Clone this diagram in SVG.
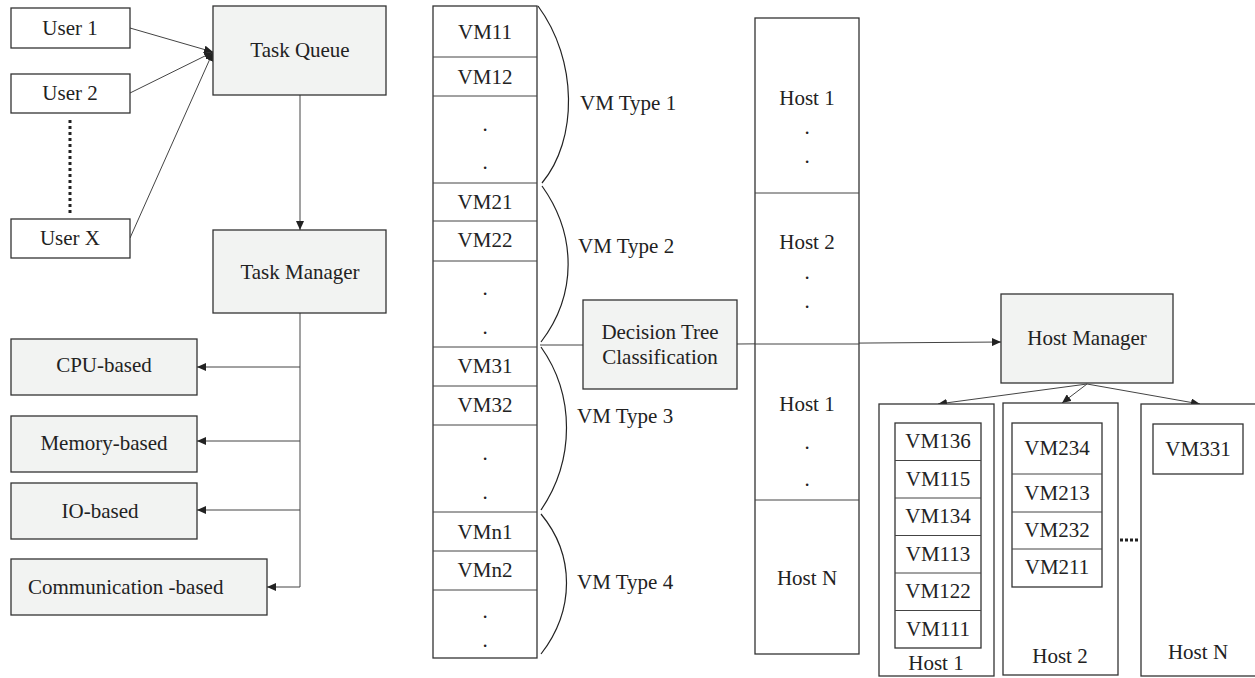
<svg xmlns="http://www.w3.org/2000/svg" width="1255" height="678" viewBox="0 0 1255 678" font-family="Liberation Serif, DejaVu Serif, serif">
<style>
text{font-family:'Liberation Serif','DejaVu Serif',serif;font-size:21px;fill:#222;text-anchor:middle}
.w{fill:#fff;stroke:#333;stroke-width:1.3}
.g{fill:#f2f3f2;stroke:#333;stroke-width:1.3}
.ln{fill:none;stroke:#444;stroke-width:1}
.br{fill:none;stroke:#222;stroke-width:1.2}
.l{text-anchor:start}
</style>
<defs>
<marker id="ah" markerUnits="userSpaceOnUse" markerWidth="10" markerHeight="8" refX="9" refY="4" orient="auto">
<path d="M0,0 L9,4 L0,8 z" fill="#222"/>
</marker>
</defs>
<rect width="1255" height="678" fill="#fff"/>

<g id="connectors">
<line class="ln" x1="130" y1="28" x2="213" y2="52" marker-end="url(#ah)"/>
<line class="ln" x1="130" y1="93" x2="213" y2="52" marker-end="url(#ah)"/>
<line class="ln" x1="130" y1="238" x2="213" y2="52" marker-end="url(#ah)"/>
<line class="ln" x1="300" y1="95" x2="300" y2="230" marker-end="url(#ah)"/>
<polyline class="ln" points="300,313 300,587 267,587" marker-end="url(#ah)"/>
<line class="ln" x1="300" y1="367" x2="197" y2="367" marker-end="url(#ah)"/>
<line class="ln" x1="300" y1="441" x2="197" y2="441" marker-end="url(#ah)"/>
<line class="ln" x1="300" y1="510" x2="197" y2="510" marker-end="url(#ah)"/>
<line class="ln" x1="540" y1="345" x2="583" y2="345"/>
<line class="ln" x1="737" y1="344" x2="1001" y2="342" marker-end="url(#ah)"/>
<line class="ln" x1="1087" y1="384" x2="938" y2="404" marker-end="url(#ah)"/>
<line class="ln" x1="1087" y1="384" x2="1062" y2="403" marker-end="url(#ah)"/>
<line class="ln" x1="1087" y1="384" x2="1200" y2="404" marker-end="url(#ah)"/>
<line x1="70" y1="120" x2="70" y2="213" stroke="#222" stroke-width="3" stroke-dasharray="3,3"/>
<line x1="1120" y1="540" x2="1140" y2="540" stroke="#222" stroke-width="3" stroke-dasharray="3,2"/>
</g>

<g id="user1"><rect class="w" x="11" y="8" width="119" height="40"/><text x="70" y="35">User 1</text></g>
<g id="user2"><rect class="w" x="11" y="74" width="119" height="39"/><text x="70" y="100">User 2</text></g>
<g id="userX"><rect class="w" x="11" y="219" width="119" height="39"/><text x="70" y="245">User X</text></g>
<g id="taskQueue"><rect class="g" x="213" y="6" width="173" height="89"/><text x="300" y="57">Task Queue</text></g>
<g id="taskManager"><rect class="g" x="213" y="230" width="173" height="83"/><text x="300" y="279">Task Manager</text></g>
<g id="cpu"><rect class="g" x="11" y="339" width="186" height="56"/><text x="104" y="372">CPU-based</text></g>
<g id="memory"><rect class="g" x="11" y="416" width="186" height="56"/><text x="104" y="450">Memory-based</text></g>
<g id="io"><rect class="g" x="11" y="483" width="186" height="56"/><text x="100" y="518">IO-based</text></g>
<g id="comm"><rect class="g" x="11" y="559" width="256" height="56"/><text class="l" x="28" y="594">Communication -based</text></g>

<g id="vmColumn">
<rect class="w" x="433" y="6" width="104" height="652"/>
<g class="ln" stroke="#333">
<line x1="433" y1="57" x2="537" y2="57"/><line x1="433" y1="96" x2="537" y2="96"/>
<line x1="433" y1="183" x2="537" y2="183"/><line x1="433" y1="221" x2="537" y2="221"/>
<line x1="433" y1="261" x2="537" y2="261"/><line x1="433" y1="347" x2="537" y2="347"/>
<line x1="433" y1="386" x2="537" y2="386"/><line x1="433" y1="425" x2="537" y2="425"/>
<line x1="433" y1="512" x2="537" y2="512"/><line x1="433" y1="551" x2="537" y2="551"/>
<line x1="433" y1="590" x2="537" y2="590"/>
</g>
<text x="485" y="38.5">VM11</text><text x="485" y="83.5">VM12</text>
<text x="485" y="131">.</text><text x="485" y="169">.</text>
<text x="485" y="208.5">VM21</text><text x="485" y="246.5">VM22</text>
<text x="485" y="295">.</text><text x="485" y="334">.</text>
<text x="485" y="373">VM31</text><text x="485" y="411.5">VM32</text>
<text x="485" y="460">.</text><text x="485" y="499">.</text>
<text x="485" y="538.5">VMn1</text><text x="485" y="576.5">VMn2</text>
<text x="485" y="618">.</text><text x="485" y="647">.</text>
</g>

<g id="braces">
<path class="br" d="M538,6 C578,60 578,140 542,183"/>
<path class="br" d="M542,186 C577,235 577,295 541,342"/>
<path class="br" d="M541,347 C575,395 575,460 541,510"/>
<path class="br" d="M541,514 C575,555 575,610 541,654"/>
<text class="l" x="580" y="110">VM Type 1</text>
<text class="l" x="578" y="253">VM Type 2</text>
<text class="l" x="577" y="423">VM Type 3</text>
<text class="l" x="577" y="589">VM Type 4</text>
</g>

<g id="hostColumn">
<rect class="w" x="755" y="18" width="104" height="636"/>
<g class="ln" stroke="#333">
<line x1="755" y1="193" x2="859" y2="193"/><line x1="755" y1="344" x2="859" y2="344"/><line x1="755" y1="500" x2="859" y2="500"/>
</g>
<text x="807" y="104.5">Host 1</text><text x="807" y="134">.</text><text x="807" y="163">.</text>
<text x="807" y="249">Host 2</text><text x="807" y="279">.</text><text x="807" y="308">.</text>
<text x="807" y="410.5">Host 1</text><text x="807" y="449">.</text><text x="807" y="486">.</text>
<text x="807" y="584.5">Host N</text>
</g>

<g id="decisionTree"><rect class="g" x="583" y="300" width="154" height="89"/><text x="660" y="339">Decision Tree</text><text x="660" y="364">Classification</text></g>
<g id="hostManager"><rect class="g" x="1001" y="294" width="172" height="89"/><text x="1087" y="344.5">Host Manager</text></g>

<g id="host1">
<rect class="w" x="879" y="404" width="115" height="272"/>
<rect class="w" x="895" y="423" width="86" height="225"/>
<g class="ln" stroke="#333">
<line x1="895" y1="460.5" x2="981" y2="460.5"/><line x1="895" y1="498" x2="981" y2="498"/>
<line x1="895" y1="535.5" x2="981" y2="535.5"/><line x1="895" y1="573" x2="981" y2="573"/>
<line x1="895" y1="610.5" x2="981" y2="610.5"/>
</g>
<text x="938" y="448">VM136</text><text x="938" y="485.5">VM115</text><text x="938" y="523">VM134</text>
<text x="938" y="560.5">VM113</text><text x="938" y="598">VM122</text><text x="938" y="635.5">VM111</text>
<text x="936" y="669.5">Host 1</text>
</g>

<g id="host2">
<rect class="w" x="1003" y="403" width="115" height="272"/>
<rect class="w" x="1012" y="423" width="90" height="164"/>
<g class="ln" stroke="#333">
<line x1="1012" y1="474" x2="1102" y2="474"/><line x1="1012" y1="512" x2="1102" y2="512"/><line x1="1012" y1="549" x2="1102" y2="549"/>
</g>
<text x="1057" y="455">VM234</text><text x="1057" y="500">VM213</text><text x="1057" y="536.5">VM232</text><text x="1057" y="574">VM211</text>
<text x="1060" y="662.5">Host 2</text>
</g>

<g id="hostN">
<rect class="w" x="1141" y="404" width="130" height="272"/>
<rect class="w" x="1153" y="424" width="90" height="50"/>
<text x="1198" y="455.5">VM331</text>
<text x="1198" y="658.5">Host N</text>
</g>
</svg>
